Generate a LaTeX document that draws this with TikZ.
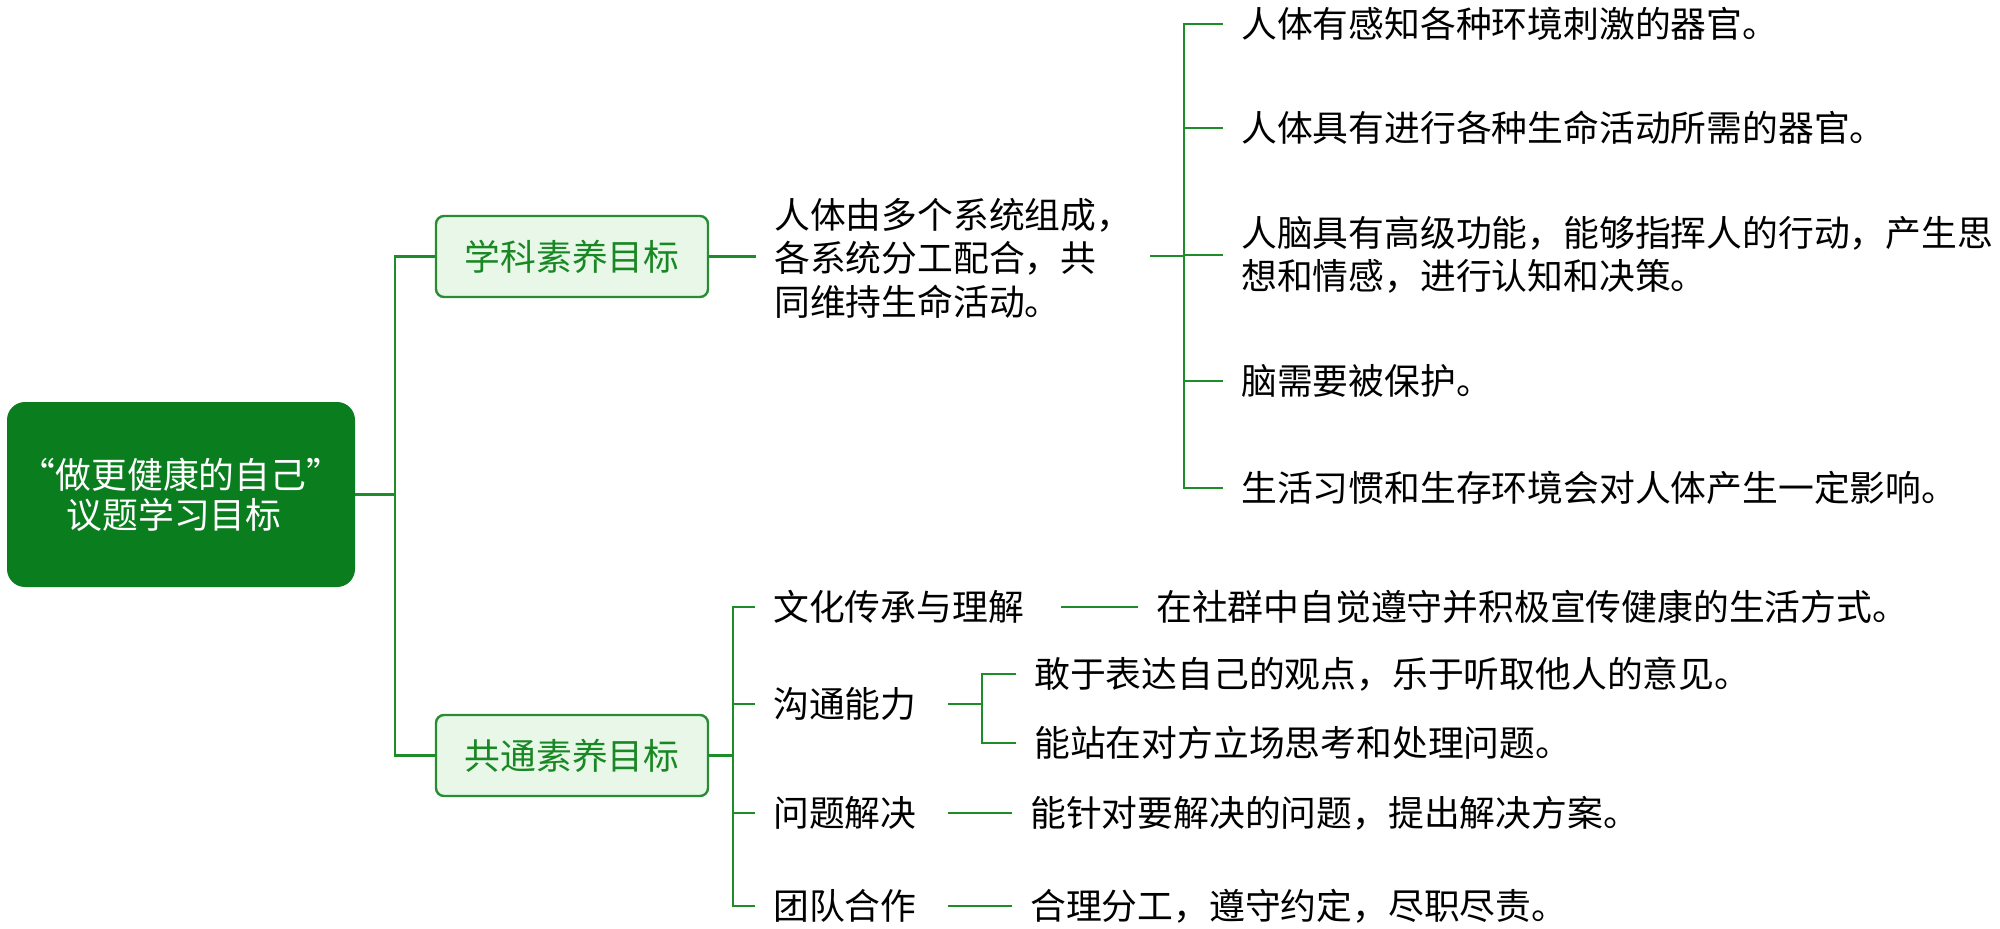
\documentclass[tikz,border=0pt]{standalone}
\usepackage{fontspec}
\setmainfont{Noto Sans CJK SC}
\definecolor{rootgreen}{RGB}{10,125,30}
\definecolor{lgreen}{RGB}{30,140,40}
\definecolor{bgreen}{RGB}{40,140,50}
\definecolor{boxfill}{RGB}{232,247,232}
\definecolor{tgreen}{RGB}{25,135,35}
\begin{document}
\begin{tikzpicture}[x=1pt,y=-1pt,
  conn/.style={draw=lgreen,line width=2.2pt},
  rootbox/.style={fill=rootgreen,rounded corners=18pt,minimum width=348pt,minimum height=185pt,text=white,align=center,inner sep=0pt,font=\fontsize{35.8}{40}\selectfont},
  catbox/.style={draw=bgreen,line width=2.4pt,fill=boxfill,rounded corners=8pt,minimum width=272pt,minimum height=81pt,text=tgreen,inner sep=0pt,font=\fontsize{35.8}{43}\selectfont},
  txt/.style={anchor=west,inner xsep=18pt,inner ysep=0pt,align=left,text=black,font=\fontsize{35.8}{43.5}\selectfont}]
\useasboundingbox (0,0) rectangle (2000,929);

\node[rootbox] (root) at (181,494.5) {“做更健康的自己”\\议题学习目标\hspace*{14pt}};
\node[catbox] (kx) at (572,256.5) {学科素养目标};
\node[catbox] (gt) at (572,755.5) {共通素养目标};

\node[txt] (t1) at (756,258) {人体由多个系统组成，\\各系统分工配合，共\\同维持生命活动。};

\node[txt] (a1) at (1223,24) {人体有感知各种环境刺激的器官。};
\node[txt] (a2) at (1223,128) {人体具有进行各种生命活动所需的器官。};
\node[txt] (a3) at (1223,255) {人脑具有高级功能，能够指挥人的行动，产生思\\想和情感，进行认知和决策。};
\node[txt] (a4) at (1223,381) {脑需要被保护。};
\node[txt] (a5) at (1223,488) {生活习惯和生存环境会对人体产生一定影响。};

\node[txt] (b1) at (755,607) {文化传承与理解};
\node[txt] (b2) at (755,704) {沟通能力};
\node[txt] (b3) at (755,813) {问题解决};
\node[txt] (b4) at (755,906) {团队合作};
\node[txt] (c1) at (1138,607) {在社群中自觉遵守并积极宣传健康的生活方式。};
\node[txt] (d1) at (1016,674) {敢于表达自己的观点，乐于听取他人的意见。};
\node[txt] (d2) at (1016,743) {能站在对方立场思考和处理问题。};
\node[txt] (e1) at (1012,813) {能针对要解决的问题，提出解决方案。};
\node[txt] (f1) at (1012,906) {合理分工，遵守约定，尽职尽责。};

\coordinate (j1) at (395,494.5);
\coordinate (j2) at (1184,256);
\coordinate (j3) at (733,755.5);
\coordinate (j4) at (982,704);

\draw[conn] (root.east) -- (j1) |- (kx.west);
\draw[conn] (j1) |- (gt.west);
\draw[conn] (kx.east) -- (kx.east -| t1.west);
\draw[conn] (t1.east |- j2) -- (j2);
\draw[conn] (j2) |- (a1.west);
\draw[conn] (j2) |- (a2.west);
\draw[conn] (j2) |- (a3.west);
\draw[conn] (j2) |- (a4.west);
\draw[conn] (j2) |- (a5.west);

\draw[conn] (gt.east) -- (j3);
\draw[conn] (j3) |- (b1.west);
\draw[conn] (j3) |- (b2.west);
\draw[conn] (j3) |- (b3.west);
\draw[conn] (j3) |- (b4.west);
\draw[conn,shorten <=19pt] (b1.east) -- (c1.west);
\draw[conn,shorten <=13pt] (b2.east) -- (j4);
\draw[conn] (j4) |- (d1.west);
\draw[conn] (j4) |- (d2.west);
\draw[conn,shorten <=13pt] (b3.east) -- (e1.west);
\draw[conn,shorten <=13pt] (b4.east) -- (f1.west);
\end{tikzpicture}
\end{document}
